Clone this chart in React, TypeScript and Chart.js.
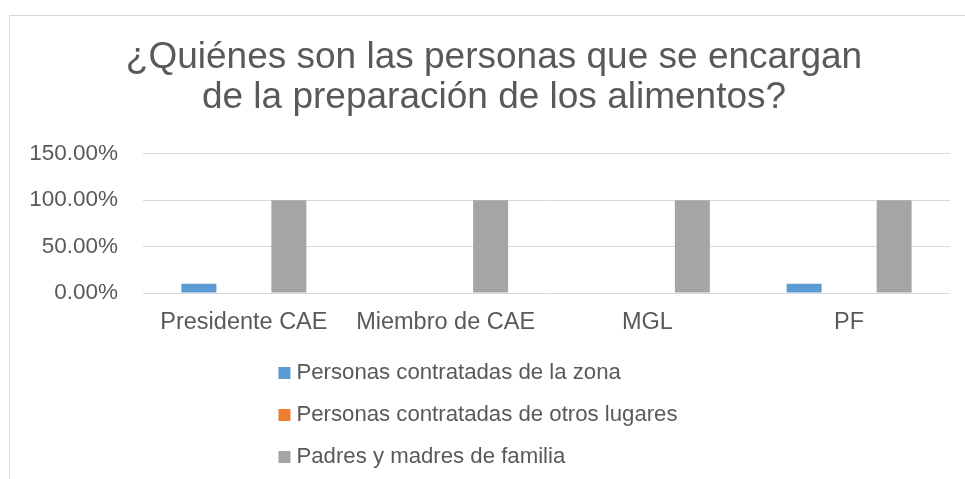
import React, { useEffect, useRef } from "react";
import { Chart, registerables } from "chart.js";

Chart.register(...registerables);

const categories = ["Presidente CAE", "Miembro de CAE", "MGL", "PF"];
const seriesNames = [
  "Personas contratadas de la zona",
  "Personas contratadas de otros lugares",
  "Padres y madres de familia",
];
const zonaValues = [10, 0, 0, 10];
const otrosValues = [0, 0, 0, 0];
const padresValues = [100, 100, 100, 100];
const yTickValues = [0, 50, 100, 150];
const titleLines = [
  "¿Quiénes son las personas que se encargan",
  "de la preparación de los alimentos?",
];
const seriesColors = ["#5B9BD5", "#ED7D31", "#A5A5A5"];

const FONT = "'Liberation Sans', Arial, sans-serif";
const TEXT = "#595959";

const listLegend = {
  id: "listLegend",
  afterDraw(chart: any, _args: any, opts: any) {
    const ctx = chart.ctx as CanvasRenderingContext2D;
    ctx.save();
    ctx.font = `${opts.fontSize}px ${FONT}`;
    const items = chart.data.datasets.map((ds: any) => ({
      text: ds.label as string,
      color: ds.backgroundColor as string,
    }));
    const maxW = Math.max(...items.map((i: any) => ctx.measureText(i.text).width));
    const blockW = opts.boxSize + opts.gap + maxW;
    const left = opts.centerX - blockW / 2;
    items.forEach((it: any, i: number) => {
      const cy = opts.top + i * opts.rowGap;
      ctx.fillStyle = it.color;
      ctx.fillRect(left, cy - opts.boxSize / 2, opts.boxSize, opts.boxSize);
      ctx.fillStyle = opts.color;
      ctx.textBaseline = "middle";
      ctx.textAlign = "left";
      ctx.fillText(it.text, left + opts.boxSize + opts.gap, cy);
    });
    ctx.restore();
  },
};

export default function App() {
  const ref = useRef<HTMLCanvasElement | null>(null);

  useEffect(() => {
    if (!ref.current) return;
    const chart = new Chart(ref.current, {
      type: "bar",
      data: {
        labels: categories,
        datasets: [
          { label: seriesNames[0], data: zonaValues, backgroundColor: seriesColors[0] },
          { label: seriesNames[1], data: otrosValues, backgroundColor: seriesColors[1] },
          { label: seriesNames[2], data: padresValues, backgroundColor: seriesColors[2] },
        ].map((d) => ({ ...d, borderWidth: 0, barPercentage: 0.778, categoryPercentage: 0.669 })),
      },
      plugins: [listLegend as any],
      options: {
        responsive: false,
        animation: false,
        devicePixelRatio: 1,
        layout: { padding: { top: 15, left: 28, right: 5, bottom: 144 } },
        plugins: {
          legend: { display: false },
          tooltip: { enabled: false },
          title: {
            display: true,
            text: titleLines,
            color: TEXT,
            font: { family: FONT, size: 37, weight: "normal", lineHeight: 1.08 },
            padding: { top: 23, bottom: 36 },
          },
          listLegend: {
            fontSize: 22.2,
            boxSize: 12,
            gap: 6,
            centerX: 478,
            top: 373,
            rowGap: 42,
            color: TEXT,
          },
        } as any,
        scales: {
          x: {
            grid: { display: false, drawTicks: false },
            border: { display: false },
            ticks: {
              color: TEXT,
              font: { family: FONT, size: 23.5 },
              padding: 15,
              maxRotation: 0,
              autoSkip: false,
            },
            afterFit: (s: any) => {
              s.height = 42;
            },
          },
          y: {
            min: 0,
            max: 150,
            afterBuildTicks: (s: any) => {
              s.ticks = yTickValues.map((v) => ({ value: v }));
            },
            grid: { color: "#D9D9D9", lineWidth: 1, drawTicks: false },
            border: { display: false },
            ticks: {
              color: TEXT,
              font: { family: FONT, size: 22.5 },
              padding: 25,
              callback: (v: any) => Number(v).toFixed(2) + "%",
            },
            afterFit: (s: any) => {
              s.width = 115;
            },
          },
          yRightSpacer: {
            position: "right",
            display: true,
            grid: { display: false, drawTicks: false },
            border: { display: false },
            ticks: { display: false },
            afterFit: (s: any) => {
              s.width = 10;
            },
          },
        } as any,
      },
    });
    return () => chart.destroy();
  }, []);

  return (
    <div
      style={{
        position: "fixed",
        left: 0,
        top: 0,
        width: 965,
        height: 479,
        overflow: "hidden",
        background: "#fff",
      }}
    >
      <div
        style={{
          position: "absolute",
          left: 9,
          top: 15,
          width: 2000,
          height: 2000,
          border: "1px solid #D9D9D9",
          background: "#fff",
        }}
      />
      <canvas
        ref={ref}
        width={965}
        height={479}
        style={{ position: "absolute", left: 0, top: 0, width: 965, height: 479 }}
      />
    </div>
  );
}
